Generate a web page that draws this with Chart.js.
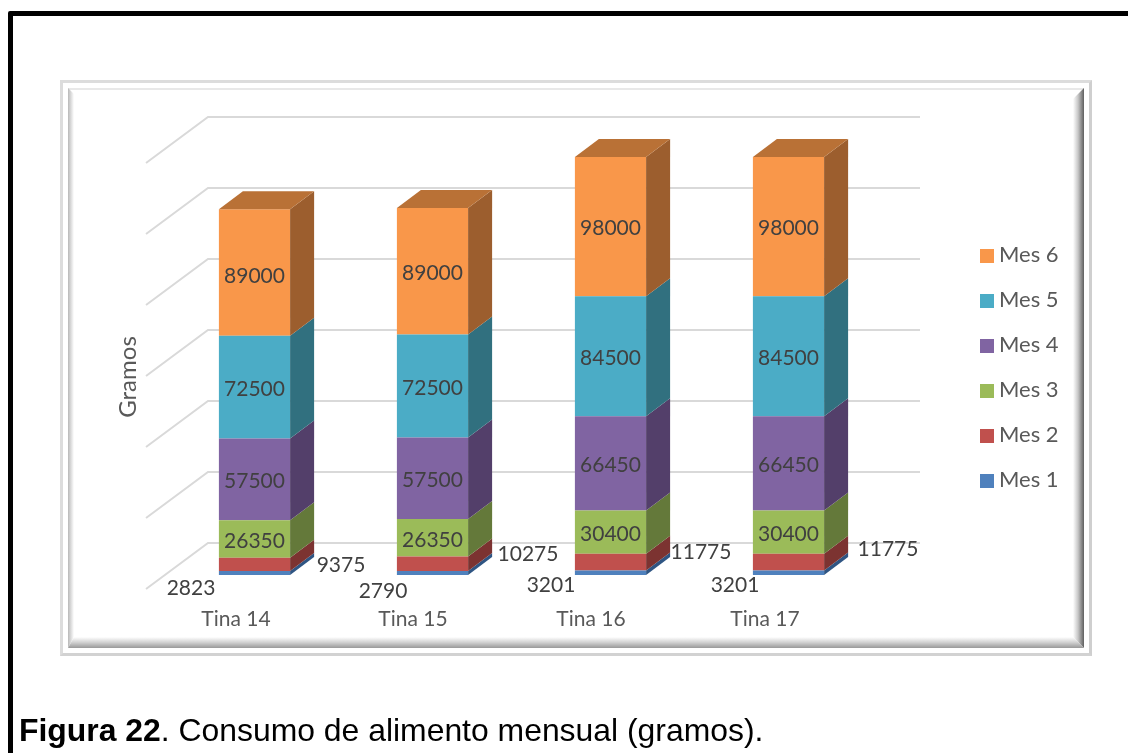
<!DOCTYPE html>
<html lang="es">
<head>
<meta charset="utf-8">
<title>Consumo de alimento mensual</title>
<script src="https://cdn.jsdelivr.net/npm/chart.js@4/dist/chart.umd.js"></script>
<style>
  html, body { margin: 0; padding: 0; background: #fff; overflow: hidden; }
  body { position: relative; width: 1128px; height: 753px; }
  #frame { position: absolute; left: 8px; top: 11px; width: 1300px; height: 1000px;
           border: 5px solid #000; border-radius: 2px; }
  #panel { position: absolute; left: 60px; top: 80px; width: 1026px; height: 570px;
           border: 3px solid #dcdcdc; border-right-color: #cfcfcf; border-bottom-color: #d2d2d2; }
  #bevel { position: absolute; left: 68px; top: 88px; width: 1016px; height: 560px; }
  #bevel div { position: absolute; }
  .b-top { left: 0; right: 0; top: 0; height: 2px; background: #e8e8e8; }
  .b-left { left: 0; top: 0; bottom: 0; width: 6px;
            background: linear-gradient(to right, #b8b8b8, #fff);
            clip-path: polygon(0 0, 100% 6px, 100% calc(100% - 11px), 0 100%); }
  .b-right { right: 0; top: 0; bottom: 0; width: 11px;
             background: linear-gradient(to right, #fff, #c8c8c8 45%, #5f5f5f);
             clip-path: polygon(0 11px, 100% 0, 100% 100%, 0 calc(100% - 11px)); }
  .b-bottom { left: 0; right: 0; bottom: 0; height: 11px;
              background: linear-gradient(to bottom, #fff, #d0d0d0 50%, #999);
              clip-path: polygon(6px 0, calc(100% - 11px) 0, 100% 100%, 0 100%); }
  canvas { position: absolute; left: 0; top: 0; }
  #legend { position: absolute; left: 980px; top: 231px; margin: 0; padding: 0; list-style: none;
            font: 22px Lato, sans-serif; color: #595959; }
  #legend li { height: 45px; line-height: 45px; white-space: nowrap; }
  #legend span { display: inline-block; width: 14px; height: 14px; margin-right: 5px; vertical-align: -1px; }
  #caption { position: absolute; left: 19px; top: 712px; margin: 0; white-space: nowrap;
             font: 31.9px "Liberation Sans", Arial, sans-serif; color: #000; }
</style>
</head>
<body>
<div id="frame"></div>
<div id="panel"></div>
<div id="bevel">
  <div class="b-top"></div><div class="b-left"></div><div class="b-right"></div><div class="b-bottom"></div>
</div>
<canvas id="chart1" width="1128" height="753"></canvas>
<ul id="legend"></ul>
<p id="caption"><b>Figura 22</b>. Consumo de alimento mensual (gramos).</p>

<script>
'use strict';

var categories = ["Tina 14", "Tina 15", "Tina 16", "Tina 17"];
var seriesNames = ["Mes 1", "Mes 2", "Mes 3", "Mes 4", "Mes 5", "Mes 6"];

var mes1 = [2823, 2790, 3201, 3201];
var mes2 = [9375, 10275, 11775, 11775];
var mes3 = [26350, 26350, 30400, 30400];
var mes4 = [57500, 57500, 66450, 66450];
var mes5 = [72500, 72500, 84500, 84500];
var mes6 = [89000, 89000, 98000, 98000];

var frontColors = ["#4f81bd", "#c0504d", "#9bbb59", "#8064a2", "#4bacc6", "#f9974a"];
var sideColors = ["#2f5583", "#7c3331", "#64793a", "#533f6a", "#31707f", "#9c5e2e"];
var topColor = "#b97136";

// bar depth, and how far the floor reaches in front of and behind the bars
var DEPTH_X = 24, DEPTH_Y = -18;
var WALL_FRONT_X = -19.5, WALL_FRONT_Y = 14;
var WALL_BACK_X = 42.5, WALL_BACK_Y = -32;

// the two thin bottom segments carry their labels beside the bar, not on it
var labelShifts = {
  0: [[-63.5, 13], [-49.5, 16], [-59.5, 11], [-53.5, 11]],
  1: [[86.5, -1], [95.5, -12], [90.5, -12], [99.5, -15]],
  5: [[0, 2], [0, 0], [0, 0], [0, 0]]
};
var categoryLabelShift = [-18.5, -19.5, -19.5, -23.5];
var TEXT_NUDGE_Y = 2;   // Lato sits high on a middle baseline


function polygon(ctx, points, color) {
  ctx.fillStyle = color;
  ctx.beginPath();
  points.forEach(function (p, i) {
    if (i === 0) { ctx.moveTo(p[0], p[1]); } else { ctx.lineTo(p[0], p[1]); }
  });
  ctx.closePath();
  ctx.fill();
}


var wallsPlugin = {
  id: "walls",
  beforeDatasetsDraw: function (chart) {
    var ctx = chart.ctx, area = chart.chartArea, y = chart.scales.y;
    ctx.save();
    ctx.strokeStyle = "#d9d9d9";
    ctx.lineWidth = 2;
    y.ticks.forEach(function (tick) {
      var py = y.getPixelForValue(tick.value);
      ctx.beginPath();
      ctx.moveTo(area.left + WALL_FRONT_X, py + WALL_FRONT_Y);
      ctx.lineTo(area.left + WALL_BACK_X, py + WALL_BACK_Y);
      ctx.lineTo(area.right + WALL_BACK_X, py + WALL_BACK_Y);
      ctx.stroke();
    });
    ctx.restore();
  }
};


var boxesPlugin = {
  id: "boxes",
  afterDatasetsDraw: function (chart) {
    var ctx = chart.ctx;
    var last = chart.data.datasets.length - 1;
    ctx.save();
    chart.data.datasets.forEach(function (ds, i) {
      chart.getDatasetMeta(i).data.forEach(function (bar) {
        var right = bar.x + bar.width / 2, left = bar.x - bar.width / 2;
        polygon(ctx, [
          [right, bar.y], [right + DEPTH_X, bar.y + DEPTH_Y],
          [right + DEPTH_X, bar.base + DEPTH_Y], [right, bar.base]
        ], sideColors[i]);
        if (i === last) {
          polygon(ctx, [
            [left, bar.y], [left + DEPTH_X, bar.y + DEPTH_Y],
            [right + DEPTH_X, bar.y + DEPTH_Y], [right, bar.y]
          ], topColor);
        }
      });
    });
    ctx.restore();
  }
};


var textPlugin = {
  id: "texts",
  afterDraw: function (chart) {
    var ctx = chart.ctx, x = chart.scales.x;
    ctx.save();
    ctx.textAlign = "center";
    ctx.textBaseline = "middle";

    // value labels
    ctx.font = "21px Lato, sans-serif";
    ctx.fillStyle = "#404040";
    chart.data.datasets.forEach(function (ds, i) {
      chart.getDatasetMeta(i).data.forEach(function (bar, j) {
        var shift = labelShifts[i] ? labelShifts[i][j] : [0, 0];
        ctx.fillText(ds.data[j], bar.x + shift[0], (bar.y + bar.base) / 2 + shift[1] + TEXT_NUDGE_Y);
      });
    });

    // category labels
    ctx.font = "21px Lato, sans-serif";
    ctx.fillStyle = "#595959";
    categories.forEach(function (name, j) {
      ctx.fillText(name, x.getPixelForValue(j) + categoryLabelShift[j], 619);
    });

    // axis title
    ctx.font = "24px Lato, sans-serif";
    ctx.translate(128, 377);
    ctx.rotate(-Math.PI / 2);
    ctx.fillText("Gramos", 0, 0);
    ctx.restore();
  }
};


function buildDatasets() {
  return [mes1, mes2, mes3, mes4, mes5, mes6].map(function (values, i) {
    return {
      label: seriesNames[i],
      data: values,
      backgroundColor: frontColors[i],
      barPercentage: 0.4,
      categoryPercentage: 1
    };
  });
}


function renderLegend(chart) {
  var list = document.getElementById("legend");
  chart.data.datasets.slice().reverse().forEach(function (ds) {
    var item = document.createElement("li");
    var box = document.createElement("span");
    box.style.background = ds.backgroundColor;
    item.appendChild(box);
    item.appendChild(document.createTextNode(ds.label));
    list.appendChild(item);
  });
}


var chart = new Chart(document.getElementById("chart1").getContext("2d"), {
  type: "bar",
  data: { labels: categories, datasets: buildDatasets() },
  options: {
    responsive: false,
    animation: false,
    layout: { padding: { left: 165.5, right: 250.5, top: 149, bottom: 178 } },
    plugins: { legend: { display: false }, tooltip: { enabled: false } },
    scales: {
      x: { stacked: true, display: false },
      y: { stacked: true, display: false, min: 0, max: 300000, ticks: { stepSize: 50000 } }
    }
  },
  plugins: [wallsPlugin, boxesPlugin, textPlugin]
});

renderLegend(chart);
</script>
</body>
</html>
